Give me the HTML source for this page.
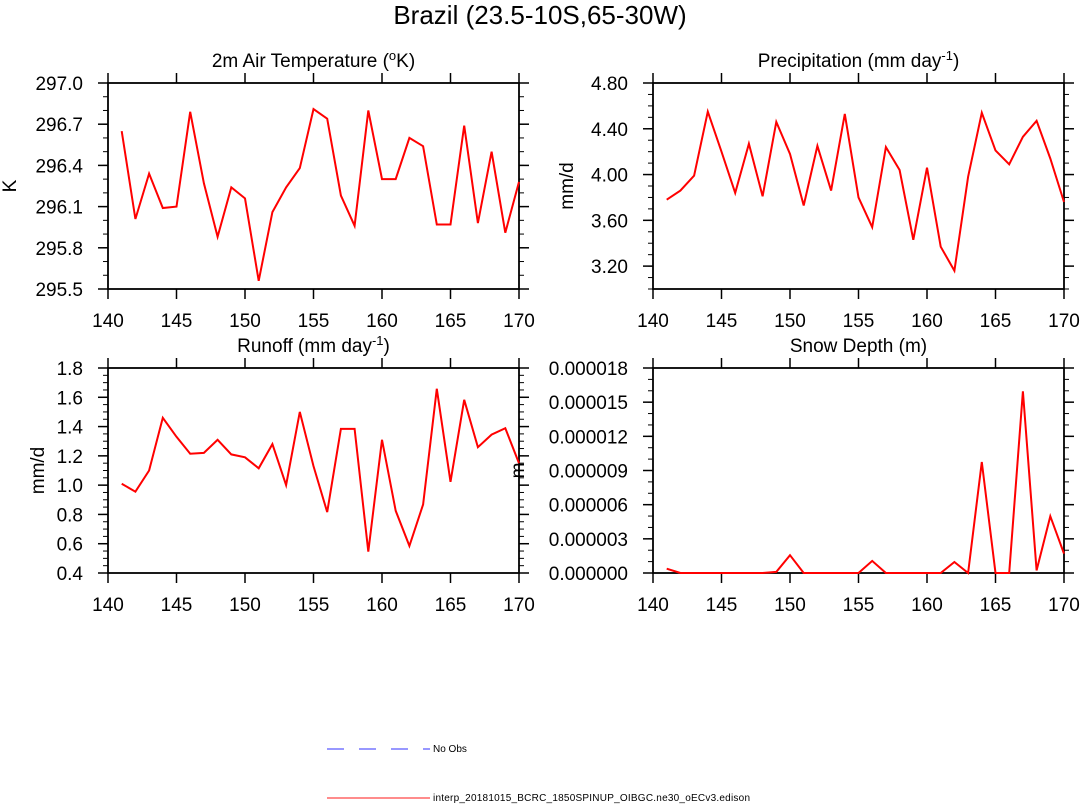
<!DOCTYPE html>
<html><head><meta charset="utf-8">
<style>
body{margin:0;background:#fff;}
svg{display:block;font-family:"Liberation Sans",Arial,sans-serif;}
</style></head>
<body>
<svg id="chart" width="1080" height="804" viewBox="0 0 1080 804">
<text x="540" y="24" font-size="26" text-anchor="middle">Brazil (23.5-10S,65-30W)</text>
<g id="panels"></g>
<g>
<line x1="327" y1="749" x2="430" y2="749" stroke="#7777ff" stroke-width="1.5" stroke-dasharray="17,15"/>
<text x="433" y="752" font-size="10">No Obs</text>
<line x1="327" y1="798" x2="430" y2="798" stroke="#f66" stroke-width="1.5"/>
<text x="433" y="801" font-size="10" textLength="317">interp_20181015_BCRC_1850SPINUP_OIBGC.ne30_oECv3.edison</text>
</g>
</svg>
<script>
const years = [141,142,143,144,145,146,147,148,149,150,151,152,153,154,155,156,157,158,159,160,161,162,163,164,165,166,167,168,169,170];
const xTicks = [140,145,150,155,160,165,170];
const tempValues = [296.65,296.01,296.34,296.09,296.10,296.79,296.27,295.88,296.24,296.16,295.56,296.06,296.24,296.38,296.81,296.74,296.18,295.96,296.80,296.30,296.30,296.60,296.54,295.97,295.97,296.69,295.98,296.50,295.91,296.28];
const precipValues = [3.78,3.86,3.99,4.55,4.20,3.84,4.27,3.81,4.46,4.18,3.73,4.25,3.86,4.53,3.80,3.54,4.24,4.04,3.43,4.06,3.37,3.16,3.98,4.54,4.21,4.09,4.33,4.47,4.14,3.76];
const runoffValues = [1.01,0.955,1.10,1.46,1.33,1.215,1.22,1.31,1.21,1.19,1.115,1.28,1.00,1.50,1.13,0.816,1.384,1.384,0.546,1.31,0.825,0.585,0.868,1.658,1.023,1.583,1.259,1.345,1.389,1.149];
const snowValues = [0.00000038,0,0,0,0,0,0,0,0.0000001,0.00000156,0,0,0,0,0,0.00000106,0,0,0,0,0,0.00000097,0,0.00000975,0,0,0.00001595,0.00000023,0.00000499,0.0000017];
const tempTicks = ["295.5","295.8","296.1","296.4","296.7","297.0"];
const precipTicks = ["3.20","3.60","4.00","4.40","4.80"];
const runoffTicks = ["0.4","0.6","0.8","1.0","1.2","1.4","1.6","1.8"];
const snowTicks = ["0.000000","0.000003","0.000006","0.000009","0.000012","0.000015","0.000018"];

const NS="http://www.w3.org/2000/svg";
const root=document.getElementById('panels');
function mk(tag,attrs,parent){const e=document.createElementNS(NS,tag);for(const k in attrs)e.setAttribute(k,attrs[k]);parent.appendChild(e);return e;}

function panel(cfg){
  const g=mk('g',{},root);
  
  
  const {L,R,T,B,ymin,ymax,minorStep}=cfg;
  const xs=v=>L+(v-140)/(170-140)*(R-L);
  const ys=v=>B-(v-ymin)/(ymax-ymin)*(B-T);
  for(let v=ymin;v<=ymax+1e-12;v+=minorStep){
    const y=ys(v);
    const t1=mk('line',{x1:L-5,y1:y,x2:L,y2:y,stroke:'#000','stroke-width':1},g);
    
    
    const t2=mk('line',{x1:R,y1:y,x2:R+5,y2:y,stroke:'#000','stroke-width':1},g);
    
    
  }
  cfg.ticks.forEach(lbl=>{
    const y=ys(parseFloat(lbl));
    const t1=mk('line',{x1:L-10,y1:y,x2:L,y2:y,stroke:'#000','stroke-width':1.5},g);
    
    
    const t2=mk('line',{x1:R,y1:y,x2:R+10,y2:y,stroke:'#000','stroke-width':1.5},g);
    
    
    const tx=mk('text',{x:L-25,y:y+7,'font-size':19,'text-anchor':'end'},g);
    tx.textContent=lbl;
    
    
  });
  xTicks.forEach(v=>{
    const x=xs(v);
    const t1=mk('line',{x1:x,y1:B,x2:x,y2:B+10,stroke:'#000','stroke-width':1.5},g);
    
    
    const t2=mk('line',{x1:x,y1:T-10,x2:x,y2:T,stroke:'#000','stroke-width':1.5},g);
    
    
    const tx=mk('text',{x:x,y:B+38,'font-size':19,'text-anchor':'middle'},g);
    tx.textContent=v;
    
    
  });
  const fr=mk('rect',{x:L,y:T,width:R-L,height:B-T,fill:'none',stroke:'#000','stroke-width':1.8},g);
  
  
  const pts=cfg.values.map((v,i)=>xs(years[i]).toFixed(1)+','+ys(v).toFixed(1)).join(' ');
  const pl=mk('polyline',{points:pts,fill:'none',stroke:'#f00','stroke-width':2,'stroke-linejoin':'miter'},g);
  
  
  const ti=mk('text',{x:(L+R)/2,y:T-16,'font-size':19,'text-anchor':'middle'},g);
  ti.innerHTML=cfg.title;
  
  
  const yl=mk('text',{x:cfg.ylx,y:(T+B)/2,'font-size':19,'text-anchor':'middle',transform:'rotate(-90 '+cfg.ylx+' '+(T+B)/2+')'},g);
  yl.textContent=cfg.ylabel;
  
  
}
panel({name:'temperature',L:108,R:519,T:83,B:289,ymin:295.5,ymax:297.0,minorStep:0.1,ticks:tempTicks,values:tempValues,
  title:'2m Air Temperature (<tspan baseline-shift="super" font-size="13">o</tspan>K)',ylabel:'K',ylx:16});
panel({name:'precipitation',L:653,R:1064,T:83,B:289,ymin:3.0,ymax:4.8,minorStep:0.1,ticks:precipTicks,values:precipValues,
  title:'Precipitation (mm day<tspan baseline-shift="super" font-size="13">-1</tspan>)',ylabel:'mm/d',ylx:573});
panel({name:'runoff',L:108,R:519,T:368,B:573,ymin:0.4,ymax:1.8,minorStep:0.05,ticks:runoffTicks,values:runoffValues,
  title:'Runoff (mm day<tspan baseline-shift="super" font-size="13">-1</tspan>)',ylabel:'mm/d',ylx:44});
panel({name:'snow-depth',L:653,R:1064,T:368,B:573,ymin:0,ymax:0.000018,minorStep:0.000001,ticks:snowTicks,values:snowValues,
  title:'Snow Depth (m)',ylabel:'m',ylx:524});
</script>
</body></html>
